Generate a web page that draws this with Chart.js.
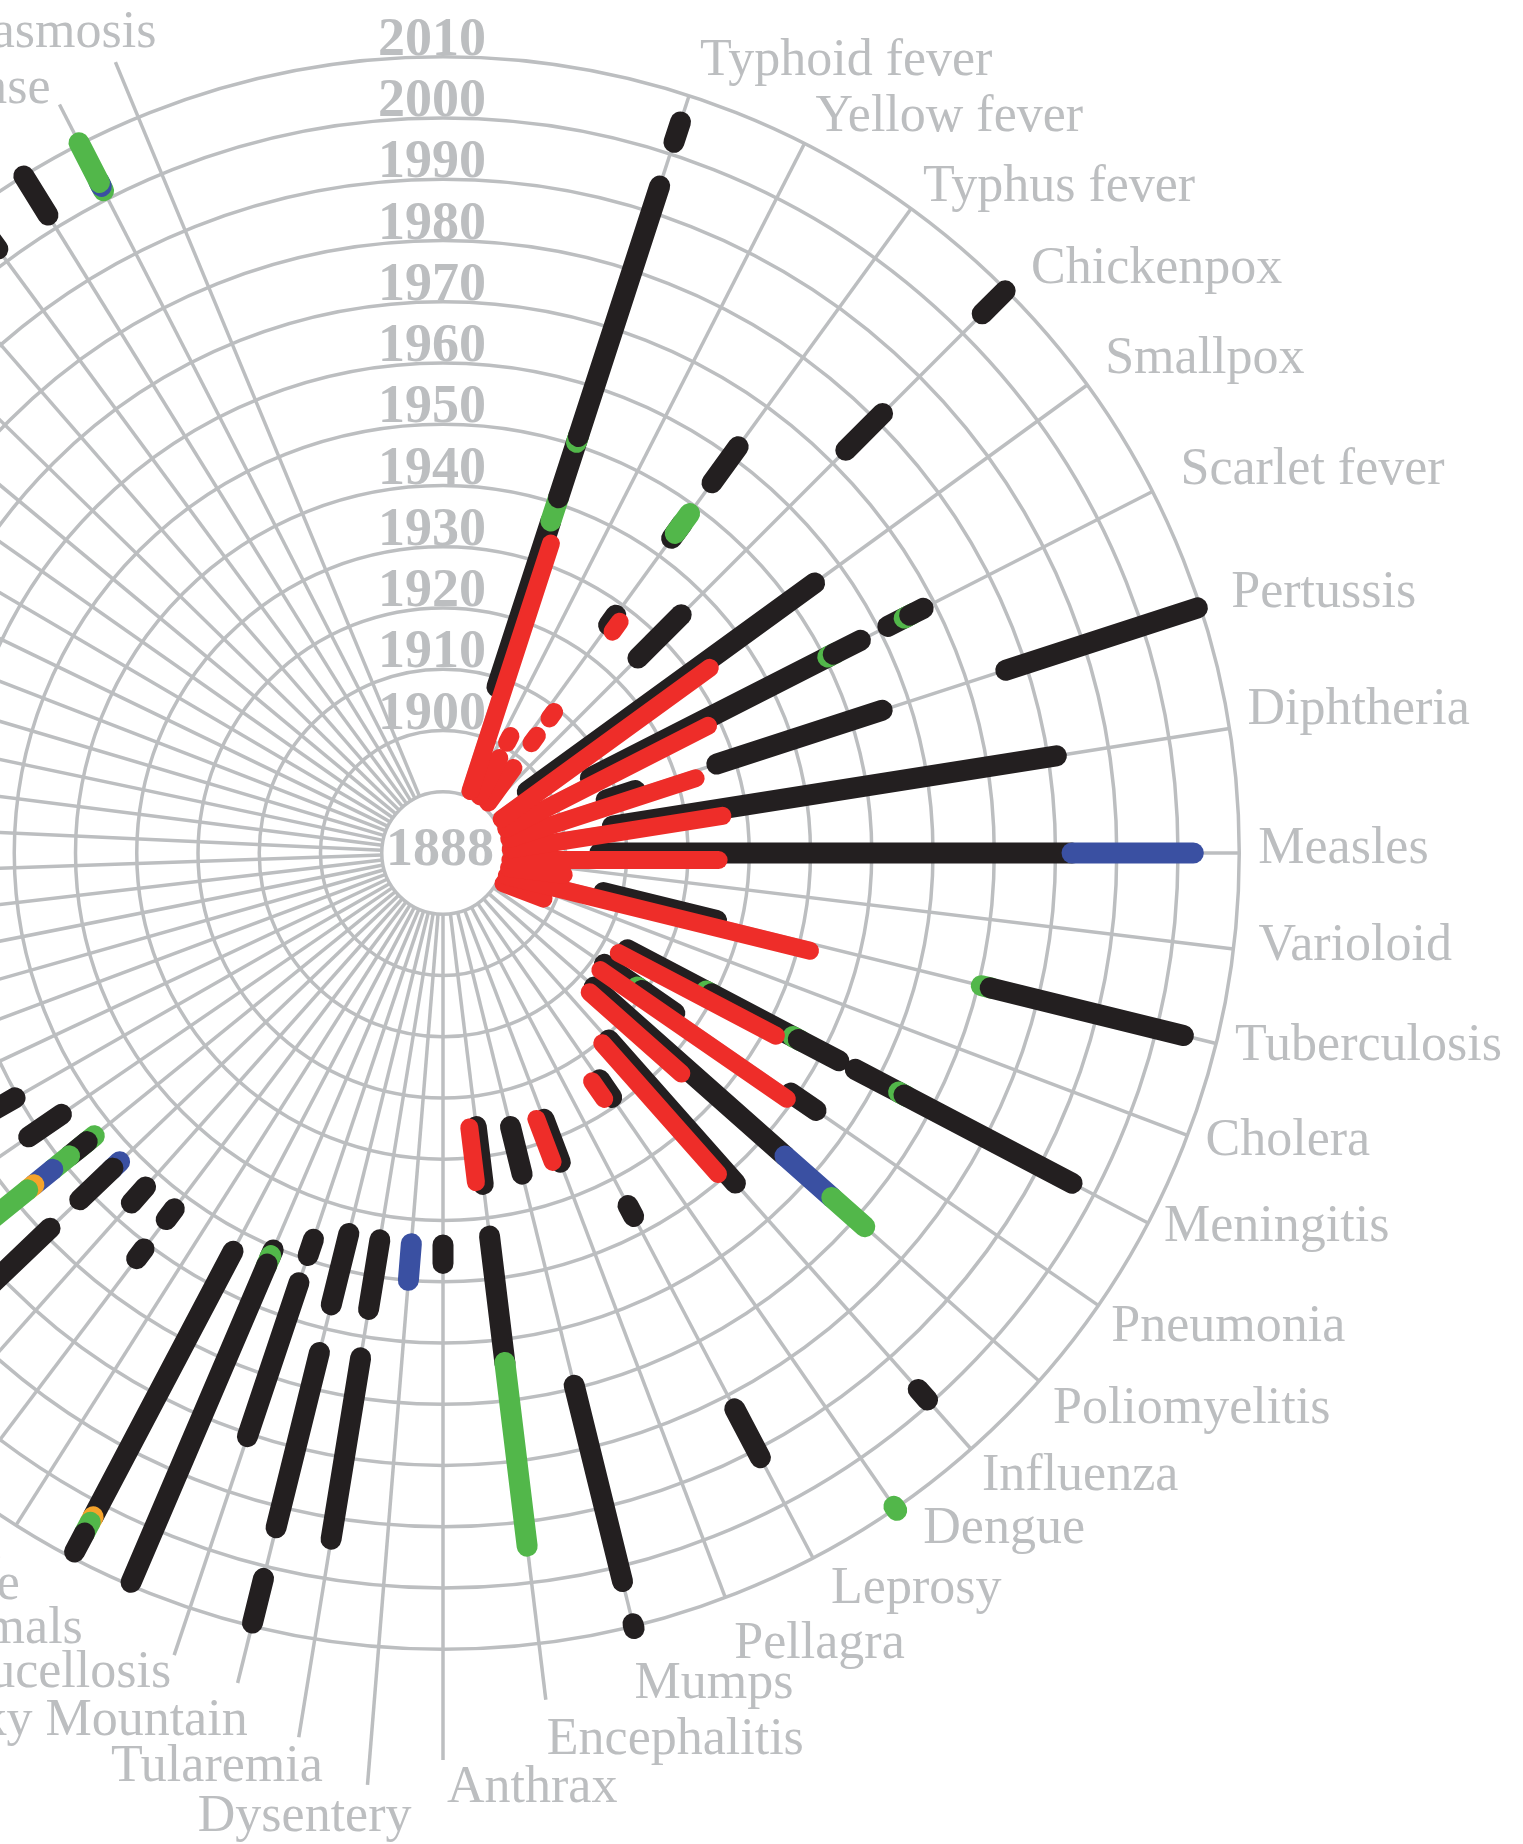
<!DOCTYPE html>
<html>
<head>
<meta charset="utf-8">
<script src="https://cdn.jsdelivr.net/npm/chart.js@4.4.1/dist/chart.umd.min.js"></script>
<style>
  html, body { margin: 0; padding: 0; background: #fff; overflow: hidden; }
  #wrap { position: relative; width: 1523px; height: 1844px; }
</style>
</head>
<body>
<div id="wrap"><canvas id="chart" width="1523" height="1844"></canvas></div>
<script>
// Spokes, clockwise from 12 o'clock
const diseases = [
  "Typhoid fever", "Yellow fever", "Typhus fever", "Chickenpox", "Smallpox",
  "Scarlet fever", "Pertussis", "Diphtheria",
  "Measles", "Varioloid", "Tuberculosis", "Cholera", "Meningitis", "Pneumonia",
  "Poliomyelitis", "Influenza", "Dengue", "Leprosy", "Pellagra", "Mumps", "Encephalitis",
  "Anthrax", "Dysentery", "Tularemia", "Rocky Mountain", "Brucellosis",
  "Rabies in animals", "Plague", "Salmonellosis", "Shigellosis", "Hepatitis A",
  "Hepatitis B", "Malaria", "Gonorrhea", "Syphilis", "Rubella", "Tetanus",
  "Trichinosis", "Psittacosis", "Botulism", "Leptospirosis", "Amebiasis",
  "Giardiasis", "Legionellosis", "Coccidioidomycosis", "Cryptosporidiosis",
  "Ehrlichiosis", "Listeriosis", "Q fever", "Chlamydia", "Chancroid",
  "Hepatitis C", "Rabies", "Streptococcal disease", "Lyme disease", "Histoplasmosis"
];

// Ring years and their labels
const rings = [1890, 1900, 1910, 1920, 1930, 1940, 1950, 1960, 1970, 1980, 1990, 2000, 2010];
const ringLabels = ["", "1900", "1910", "1920", "1930", "1940", "1950", "1960", "1970", "1980", "1990", "2000", "2010"];
const centerLabel = "1888";

// Reporting periods: [disease, first year, last year]
const blackBars = [
  ["Typhoid fever", 1908.5, 1937], ["Typhoid fever", 1941, 1951], ["Typhoid fever", 1951.5, 1994.5], ["Typhoid fever", 2002, 2005.5],
  ["Typhus fever", 1926, 1928], ["Typhus fever", 1943.5, 1946.5], ["Typhus fever", 1954.7, 1962],
  ["Chickenpox", 1925, 1935], ["Chickenpox", 1973, 1981.5], ["Chickenpox", 2004.5, 2009.8],
  ["Smallpox", 1897, 1955],
  ["Scarlet fever", 1907, 1951], ["Scarlet fever", 1951.5, 1956.5], ["Scarlet fever", 1961.5, 1965], ["Scarlet fever", 1965.5, 1968],
  ["Pertussis", 1908, 1913], ["Pertussis", 1927, 1955.4], ["Pertussis", 1976.6, 2009.5],
  ["Diphtheria", 1908, 1981.4],
  ["Measles", 1905.6, 1982.7],
  ["Tuberculosis", 1907, 1926], ["Tuberculosis", 1972, 2004.5],
  ["Meningitis", 1914, 1929], ["Meningitis", 1929.5, 1945], ["Meningitis", 1945.5, 1953],
  ["Meningitis", 1956, 1964.5], ["Meningitis", 1965, 1996],
  ["Pneumonia", 1912, 1919], ["Pneumonia", 1919.5, 1926], ["Pneumonia", 1949, 1954],
  ["Poliomyelitis", 1913, 1954.6],
  ["Influenza", 1920.8, 1952], ["Influenza", 1997, 1999.3],
  ["Dengue", 1925, 1928.5],
  ["Leprosy", 1945, 1947], ["Leprosy", 1982.5, 1991.5],
  ["Pellagra", 1926.5, 1934],
  ["Mumps", 1926, 1934], ["Mumps", 1969.5, 2002.5], ["Mumps", 2009.6, 2010.4],
  ["Encephalitis", 1925, 1934.5], ["Encephalitis", 1943, 1964],
  ["Anthrax", 1944, 1947],
  ["Tularemia", 1944, 1955.5], ["Tularemia", 1963.5, 1993.5],
  ["Rocky Mountain", 1944, 1956], ["Rocky Mountain", 1964, 1993.5], ["Rocky Mountain", 2002, 2009.5],
  ["Brucellosis", 1946.5, 1949.3], ["Brucellosis", 1954, 1980.5],
  ["Rabies in animals", 1950.5, 1952], ["Rabies in animals", 1953, 2009.5],
  ["Plague", 1953.5, 2002.5], ["Plague", 2005.5, 2009],
  ["Shigellosis", 1952.8, 1955], ["Shigellosis", 1961, 1963],
  ["Hepatitis A", 1953, 1956.5],
  ["Hepatitis B", 1954.5, 1962], ["Hepatitis B", 1968.7, 1995],
  ["Malaria", 1954.8, 1958.5],
  ["Gonorrhea", 1955.5, 1962],
  ["Syphilis", 1960.5, 1965],
  ["Rabies", 2002.5, 2010], ["Streptococcal disease", 2002.5, 2010]
];
const redBars = [
  ["Typhoid fever", 1891, 1933.5],
  ["Yellow fever", 1891, 1898], ["Yellow fever", 1900.8, 1902],
  ["Typhus fever", 1891, 1898], ["Typhus fever", 1903, 1904.5], ["Typhus fever", 1908, 1909.3],
  ["Typhus fever", 1925.5, 1927.5],
  ["Smallpox", 1891, 1933],
  ["Scarlet fever", 1891, 1928],
  ["Pertussis", 1891, 1923],
  ["Diphtheria", 1891, 1926],
  ["Measles", 1891, 1925],
  ["Varioloid", 1891, 1900],
  ["Tuberculosis", 1891, 1942],
  ["Cholera", 1891, 1898],
  ["Meningitis", 1913, 1942],
  ["Pneumonia", 1912, 1949],
  ["Poliomyelitis", 1913, 1933],
  ["Influenza", 1920.5, 1949],
  ["Dengue", 1924.5, 1928],
  ["Pellagra", 1926, 1933.5],
  ["Encephalitis", 1925, 1934]
];
const greenBars = [
  ["Typhoid fever", 1937, 1941], ["Typhoid fever", 1950.5, 1951.8],
  ["Typhus fever", 1944.5, 1948.5],
  ["Scarlet fever", 1950.5, 1952], ["Scarlet fever", 1964.5, 1966],
  ["Tuberculosis", 1970.5, 1972.3],
  ["Meningitis", 1928.5, 1930], ["Meningitis", 1944.5, 1946], ["Meningitis", 1964, 1965.5],
  ["Pneumonia", 1918.5, 1920],
  ["Poliomyelitis", 1964.8, 1972],
  ["Dengue", 2009.6, 2010.4],
  ["Encephalitis", 1963.8, 1994],
  ["Rabies in animals", 1951.5, 1953.5],
  ["Plague", 2003.5, 2005.5],
  ["Malaria", 1953.3, 1957], ["Malaria", 1958.5, 1962], ["Malaria", 1967.3, 1990],
  ["Lyme disease", 2001.5, 2002.8], ["Lyme disease", 2003, 2010.3]
];
const blueBars = [
  ["Measles", 1982.7, 2002.5],
  ["Poliomyelitis", 1954.6, 1964.8],
  ["Dysentery", 1944, 1950],
  ["Hepatitis B", 1953, 1955],
  ["Malaria", 1962, 1966],
  ["Lyme disease", 2002.3, 2003.3]
];
const orangeBars = [
  ["Plague", 2002.5, 2003.5],
  ["Malaria", 1966, 1967.3]
];

// ---- layout ----
const W = 1523, H = 1844;
const CX = 443, CY = 853;          // centre of the dial on the page
const PX = 6.125;                  // pixels per year
const ORIGIN = 1880;               // year at the centre
// three fans of spokes: first angle, last angle, number of spokes
const fans = [[18, 81, 8], [90, 90 + 12 * 90 / 13, 13], [180, 337.5, 35]];
const angles = [];
fans.forEach(([a0, a1, n]) => {
  for (let i = 0; i < n; i++) angles.push(a0 + (a1 - a0) * i / (n - 1));
});
// spokes drawn past the outer ring up to their label (px from centre)
const leaderPx = {
  "Encephalitis": 853, "Anthrax": 907, "Dysentery": 935, "Tularemia": 896,
  "Rocky Mountain": 855, "Brucellosis": 846, "Lyme disease": 841, "Histoplasmosis": 856
};
const labelNudge = {
  "Typhoid fever": [-3, -6], "Yellow fever": [-3, 1], "Typhus fever": [-2, 3],
  "Chickenpox": [11, 1], "Smallpox": [4, -8], "Scarlet fever": [14, -8],
  "Pertussis": [17, -4], "Diphtheria": [4, -13], "Measles": [5, -4],
  "Varioloid": [11, -6], "Tuberculosis": [5, -4], "Cholera": [4, -5],
  "Meningitis": [2, -10], "Pneumonia": [-1, 5], "Poliomyelitis": [0, 8],
  "Influenza": [-3, 5], "Dengue": [14, -4], "Leprosy": [4, 5], "Pellagra": [-5, 19],
  "Mumps": [-13, 29], "Encephalitis": [-13, 11], "Anthrax": [-10, -2],
  "Dysentery": [58, 2], "Tularemia": [38, 0], "Rocky Mountain": [24, 9],
  "Brucellosis": [11, -10], "Rabies in animals": [-33, 17], "Plague": [-38, 1],
  "Streptococcal disease": [-40, 0], "Lyme disease": [5, 11], "Histoplasmosis": [55, -1]
};
const GRID = "#bcbec0";
const TEXT = "#bcbec0";
const COLORS = { black: "#231f20", red: "#ee2d29", green: "#52b74a", blue: "#3a50a2", orange: "#f5a32b" };

function spokeAngle(name) {
  return angles[diseases.indexOf(name)];
}

// data point for a year on a spoke; shift moves the bar sideways (clockwise)
function polar(angle, year, shift) {
  const a = angle * Math.PI / 180;
  const r = year - ORIGIN;
  return { x: r * Math.sin(a) + shift * Math.cos(a), y: r * Math.cos(a) - shift * Math.sin(a) };
}

function barDatasets(list, color, width, shift, top) {
  return list.map(([name, from, to]) => {
    const a = spokeAngle(name);
    return {
      label: name,
      data: [polar(a, from, shift), polar(a, to, shift)],
      showLine: true,
      borderColor: COLORS[color],
      backgroundColor: COLORS[color],
      borderWidth: width,
      borderCapStyle: "round",
      pointRadius: 0,
      pointHoverRadius: 0,
      // outer segments are painted over inner ones, red on top of all
      order: top ? -1 : 3000 - from
    };
  });
}

const datasets = [
  ...barDatasets(blackBars, "black", 21, 0, false),
  ...barDatasets(greenBars, "green", 21, 0, false),
  ...barDatasets(blueBars, "blue", 21, 0, false),
  ...barDatasets(orangeBars, "orange", 21, 0, false),
  ...barDatasets(redBars, "red", 18, 7 / PX, true)
];

const dialGrid = {
  id: "dialGrid",
  beforeDatasetsDraw(chart) {
    const { ctx, scales: { x, y } } = chart;
    const cx = x.getPixelForValue(0), cy = y.getPixelForValue(0);
    const k = x.getPixelForValue(1) - cx;
    const rOf = (year) => (year - ORIGIN) * k;
    const rOuter = rOf(rings[rings.length - 1]);
    ctx.save();
    ctx.strokeStyle = GRID;
    ctx.lineWidth = 3.5;
    rings.forEach((yr) => {
      ctx.beginPath();
      ctx.arc(cx, cy, rOf(yr), 0, Math.PI * 2);
      ctx.stroke();
    });
    diseases.forEach((name, i) => {
      const a = angles[i] * Math.PI / 180;
      const r0 = rOf(rings[0]);
      const r1 = leaderPx[name] || rOuter;
      ctx.beginPath();
      ctx.moveTo(cx + r0 * Math.sin(a), cy - r0 * Math.cos(a));
      ctx.lineTo(cx + r1 * Math.sin(a), cy - r1 * Math.cos(a));
      ctx.stroke();
    });
    // year labels up the 12 o'clock axis
    ctx.fillStyle = TEXT;
    ctx.font = "bold 54px 'Liberation Serif', 'Times New Roman', serif";
    ctx.textAlign = "center";
    ctx.textBaseline = "alphabetic";
    rings.forEach((yr, i) => {
      if (!ringLabels[i]) return;
      ctx.fillText(ringLabels[i], cx - 11, cy - rOf(yr) - 2);
    });
    ctx.fillText(centerLabel, cx - 3, cy + 12);
    ctx.restore();
  },
  afterDatasetsDraw(chart) {
    const { ctx, scales: { x, y } } = chart;
    const cx = x.getPixelForValue(0), cy = y.getPixelForValue(0);
    const k = x.getPixelForValue(1) - cx;
    const rOuter = (rings[rings.length - 1] - ORIGIN) * k;
    ctx.save();
    ctx.fillStyle = TEXT;
    ctx.font = "52px 'Liberation Serif', 'Times New Roman', serif";
    ctx.textBaseline = "middle";
    diseases.forEach((name, i) => {
      const deg = angles[i];
      const a = deg * Math.PI / 180;
      const r = leaderPx[name] || rOuter;
      const ex = cx + r * Math.sin(a), ey = cy - r * Math.cos(a);
      const right = deg > 180.5;
      const [dx, dy] = labelNudge[name] || [0, 0];
      ctx.textAlign = right ? "right" : "left";
      const tx = ex + (right ? -14 : 14) + dx;
      const ty = ey - Math.cos(a) * 30 + dy;
      ctx.fillText(name, tx, ty);
    });
    ctx.restore();
  }
};

new Chart(document.getElementById("chart"), {
  type: "scatter",
  data: { datasets },
  options: {
    responsive: false,
    animation: false,
    events: [],
    layout: { padding: 0 },
    plugins: { legend: { display: false }, tooltip: { enabled: false } },
    scales: {
      x: { type: "linear", display: false, min: -CX / PX, max: (W - CX) / PX },
      y: { type: "linear", display: false, min: -(H - CY) / PX, max: CY / PX }
    }
  },
  plugins: [dialGrid]
});
</script>
</body>
</html>
